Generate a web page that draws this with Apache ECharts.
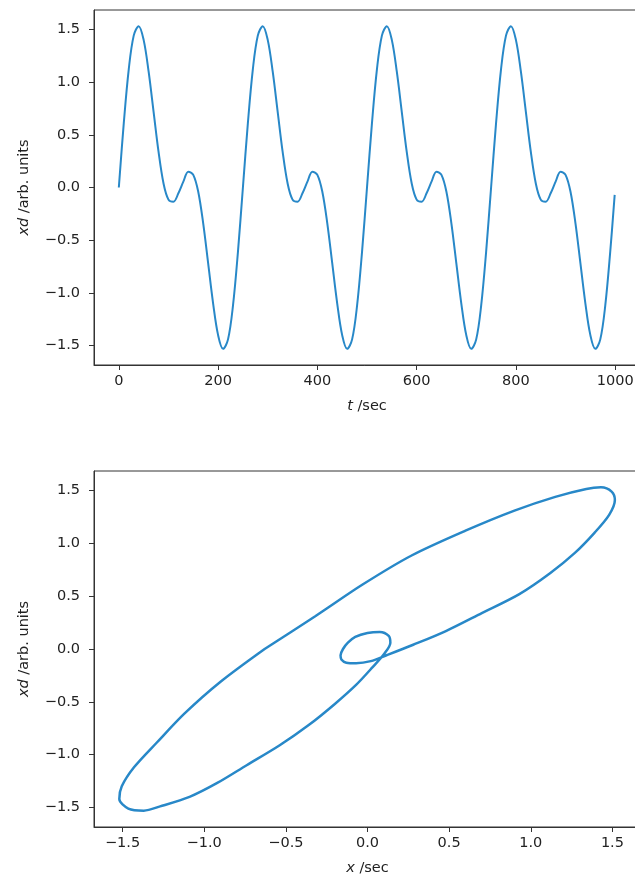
<!DOCTYPE html>
<html>
<head>
<meta charset="utf-8">
<script src="https://cdn.jsdelivr.net/npm/echarts@6/dist/echarts.min.js"></script>
<style>
html,body{margin:0;padding:0;background:#fff;}
#chart{width:635px;height:879px;}
</style>
</head>
<body>
<div id="chart"></div>
<script>
// ---- data ----
// top panel: time (sec) and xd (arb. units)
const timeSec = [0,10,20,30,40,50,60,70,80,90,100,110,120,130,140,150,160,170,180,190,200,210,220,230,240,
  250,260,270,280,290,300,310,320,330,340,350,360,370,380,390,400,410,420,430,440,450,460,470,480,490,
  500,510,520,530,540,550,560,570,580,590,600,610,620,630,640,650,660,670,680,690,700,710,720,730,740,
  750,760,770,780,790,800,810,820,830,840,850,860,870,880,890,900,910,920,930,940,950,960,970,980,990,999];
const xdValues = [0.00,0.61,1.12,1.44,1.53,1.40,1.10,0.72,0.34,0.04,-0.115,-0.135,-0.055,0.055,0.15,0.12,-0.04,-0.34,-0.72,-1.10,-1.40,-1.53,-1.44,-1.12,-0.61,
  0.00,0.61,1.12,1.44,1.53,1.40,1.10,0.72,0.34,0.04,-0.115,-0.135,-0.055,0.055,0.15,0.12,-0.04,-0.34,-0.72,-1.10,-1.40,-1.53,-1.44,-1.12,-0.61,
  0.00,0.61,1.12,1.44,1.53,1.40,1.10,0.72,0.34,0.04,-0.115,-0.135,-0.055,0.055,0.15,0.12,-0.04,-0.34,-0.72,-1.10,-1.40,-1.53,-1.44,-1.12,-0.61,
  0.00,0.61,1.12,1.44,1.53,1.40,1.10,0.72,0.34,0.04,-0.115,-0.135,-0.055,0.055,0.15,0.12,-0.04,-0.34,-0.72,-1.10,-1.40,-1.53,-1.44,-1.12,-0.61,
  -0.07];

// bottom panel: one cycle of the phase curve (x, xd), read every 5 sec
const phaseX  = [-0.63,-0.32,-0.03,0.27,0.60,0.90,1.15,1.34,1.43,1.495,1.515,1.48,1.39,1.27,1.12,0.93,0.70,0.48,0.28,0.12,
  0.02,-0.07,-0.13,-0.16,-0.165,-0.15,-0.12,-0.075,0.00,0.075,0.13,0.14,0.105,0.03,-0.07,-0.20,-0.36,-0.54,-0.74,-0.92,
  -1.09,-1.27,-1.37,-1.465,-1.52,-1.505,-1.43,-1.29,-1.12,-0.90,-0.63];
const phaseXd = [0.00,0.31,0.61,0.885,1.12,1.31,1.44,1.515,1.53,1.49,1.41,1.27,1.10,0.91,0.72,0.52,0.34,0.17,0.04,-0.057,
  -0.115,-0.135,-0.13,-0.10,-0.06,0.00,0.06,0.115,0.152,0.162,0.125,0.06,-0.04,-0.174,-0.34,-0.52,-0.72,-0.914,-1.10,-1.268,
  -1.40,-1.49,-1.53,-1.51,-1.42,-1.30,-1.12,-0.885,-0.61,-0.31,0.00];

const xTicksTop = [0,200,400,600,800,1000];
const yTicks = [-1.5,-1.0,-0.5,0.0,0.5,1.0,1.5];
const xTicksBottom = [-1.5,-1.0,-0.5,0.0,0.5,1.0,1.5];

// ---- chart ----
const FONT = 'DejaVu Sans';
const FS = 14.5;
const TXT = '#222';
const LINE = '#2888c8';
const fmt1 = v => v.toFixed(1).replace('-', '\u2212');

function axisCommon(ticks, formatter, margin) {
  return {
    axisLine: {show: true, onZero: false, lineStyle: {color: '#333', width: 1}},
    axisTick: {show: true, inside: false, length: 5, customValues: ticks, lineStyle: {color: '#333', width: 1}},
    axisLabel: {show: true, customValues: ticks, formatter: formatter, margin: margin,
      color: TXT, fontFamily: FONT, fontSize: FS},
    splitLine: {show: false}
  };
}
const nameStyle = {color: TXT, fontFamily: FONT, fontSize: FS,
  rich: {i: {fontStyle: 'italic', fontFamily: FONT, fontSize: FS, color: TXT}}};

const topData = timeSec.map((t, i) => [t, xdValues[i]]);
const bottomData = phaseX.map((x, i) => [x, phaseXd[i]]);

const chart = echarts.init(document.getElementById('chart'), null, {renderer: 'canvas'});
chart.setOption({
  animation: false,
  backgroundColor: '#fff',
  grid: [
    {left: 94, top: 10, width: 546, height: 355, show: true, borderColor: '#333', borderWidth: 1,
      containLabel: false, outerBoundsMode: 'none'},
    {left: 94, top: 471, width: 547, height: 356, show: true, borderColor: '#333', borderWidth: 1,
      containLabel: false, outerBoundsMode: 'none'}
  ],
  xAxis: [
    Object.assign({type: 'value', gridIndex: 0, min: -50, max: 1050,
      name: '{i|t} /sec', nameLocation: 'middle', nameGap: 34, nameTextStyle: nameStyle},
      axisCommon(xTicksTop, v => String(v), 9)),
    Object.assign({type: 'value', gridIndex: 1, min: -1.675, max: 1.675,
      name: '{i|x} /sec', nameLocation: 'middle', nameGap: 34, nameTextStyle: nameStyle},
      axisCommon(xTicksBottom, fmt1, 9))
  ],
  yAxis: [
    Object.assign({type: 'value', gridIndex: 0, min: -1.683, max: 1.683,
      name: '{i|xd} /arb. units', nameLocation: 'middle', nameGap: 62, nameTextStyle: nameStyle},
      axisCommon(yTicks, fmt1, 14)),
    Object.assign({type: 'value', gridIndex: 1, min: -1.685, max: 1.685,
      name: '{i|xd} /arb. units', nameLocation: 'middle', nameGap: 62, nameTextStyle: nameStyle},
      axisCommon(yTicks, fmt1, 14))
  ],
  series: [
    {type: 'line', xAxisIndex: 0, yAxisIndex: 0, data: topData, showSymbol: false, smooth: 0.35,
      lineStyle: {color: LINE, width: 2}, itemStyle: {color: LINE}},
    {type: 'line', xAxisIndex: 1, yAxisIndex: 1, data: bottomData, showSymbol: false, smooth: 0.3,
      lineStyle: {color: LINE, width: 2.5}, itemStyle: {color: LINE}}
  ]
});
</script>
</body>
</html>
